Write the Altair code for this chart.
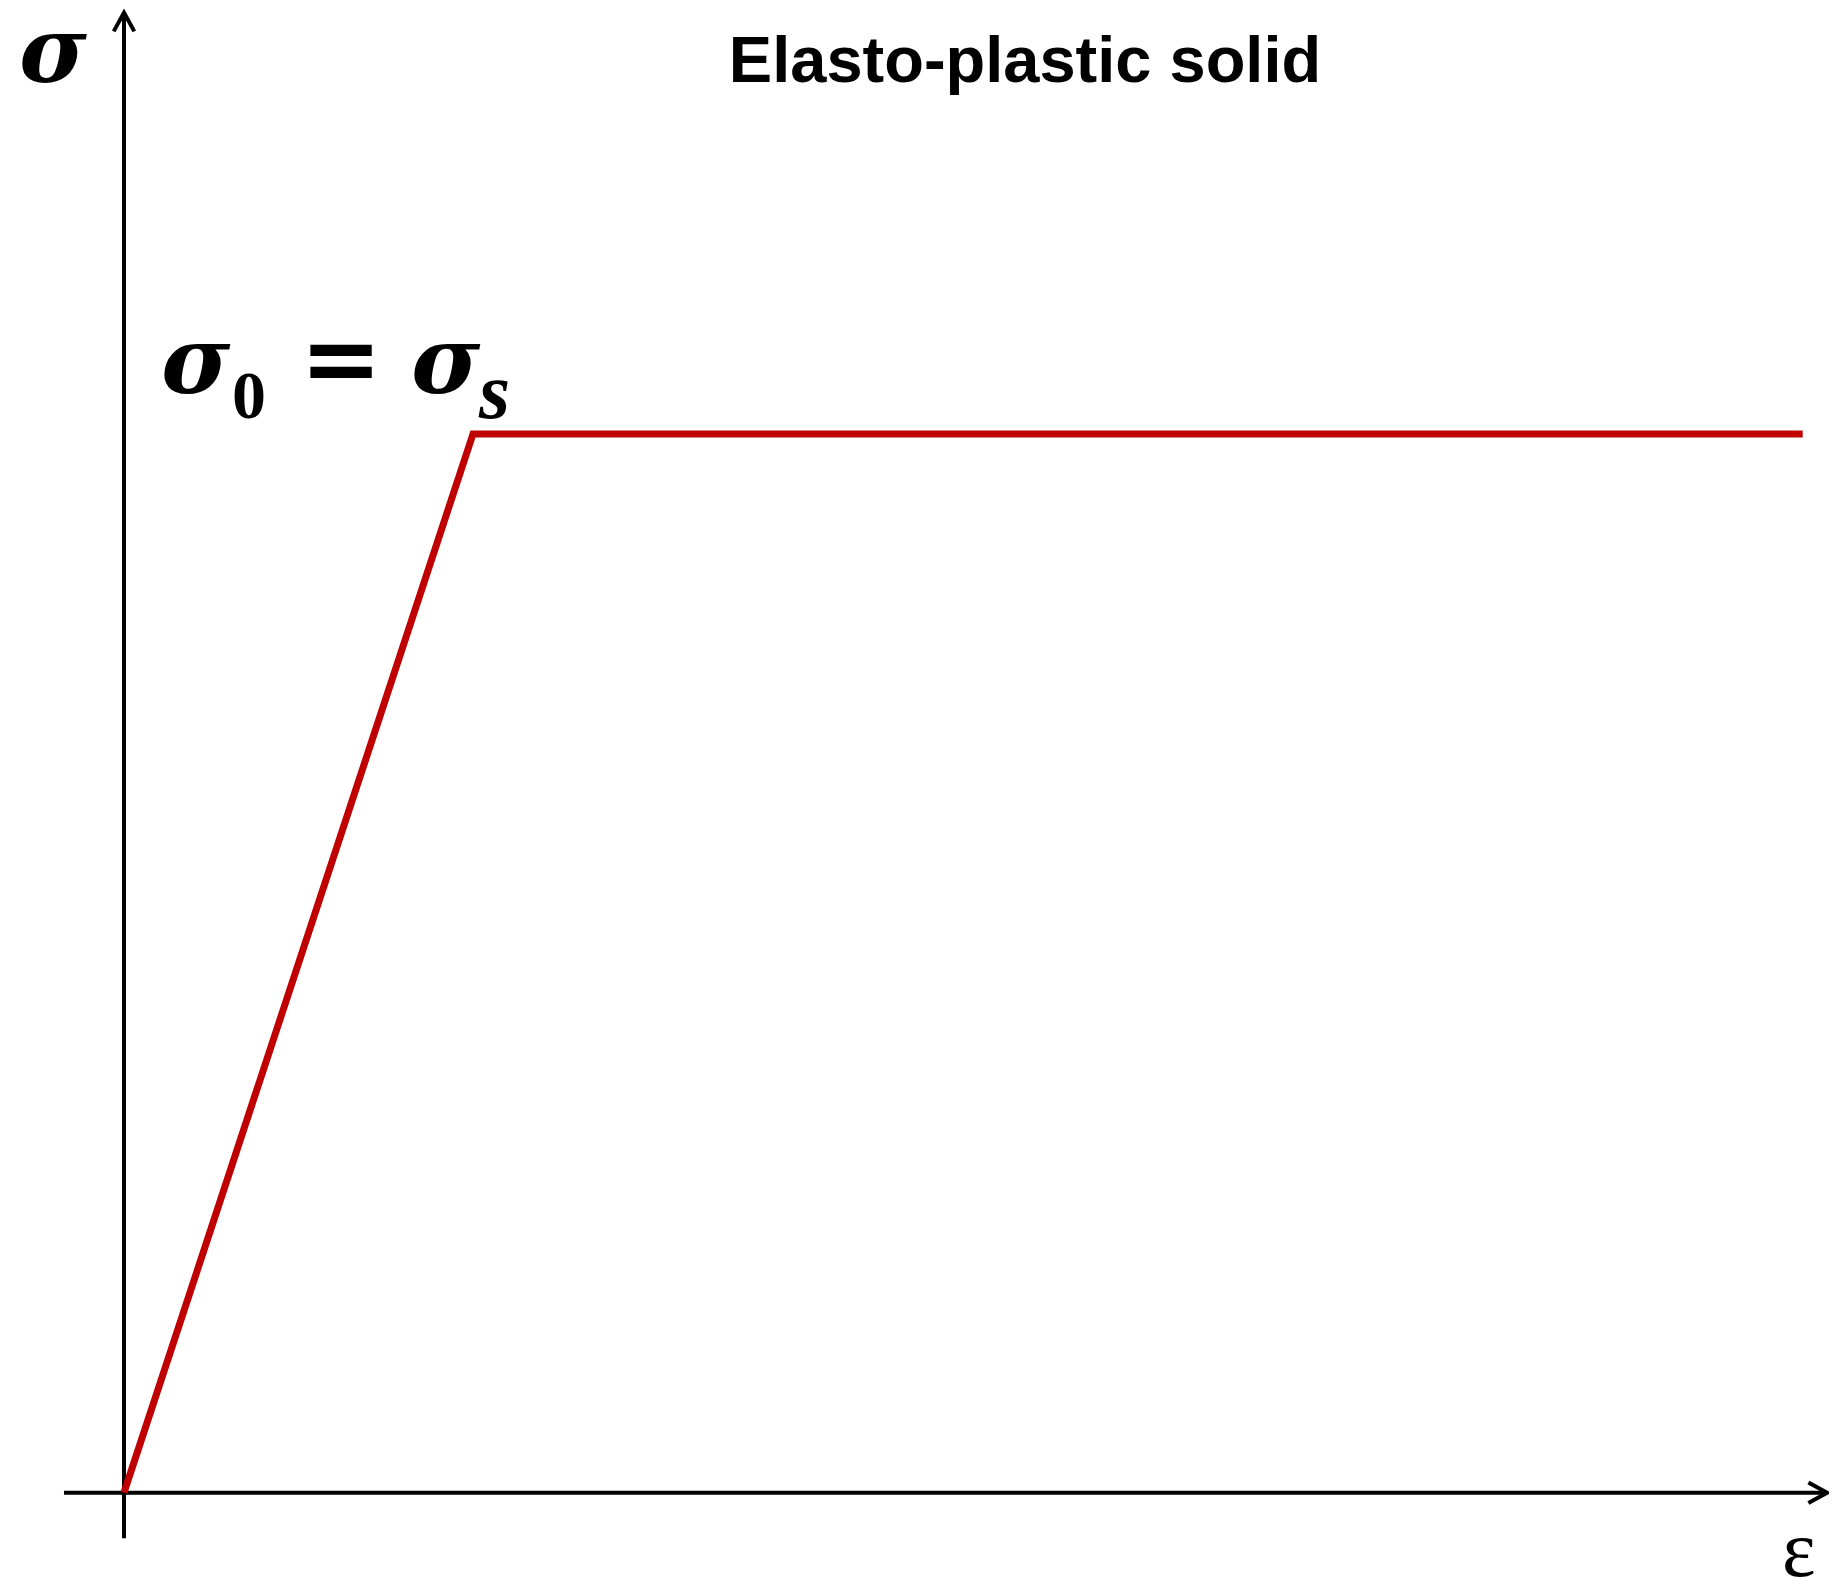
import altair as alt
import pandas as pd

# Stress-strain curve of an elasto-plastic solid (normalized units)
strain = [0.0, 1.0, 4.81]
stress = [0.0, 1.0, 1.0]

# extents of the drawn coordinate axes (data units)
axis_x_ext = [-0.172, 4.88]
axis_y_ext = [-0.043, 1.398]

title_text = ["Elasto-plastic solid"]
y_label = ["σ"]
x_label = ["ε"]

W, H = 1821, 1570
xs = alt.Scale(domain=[-0.33238, 4.88539], nice=False, zero=False)
ys = alt.Scale(domain=[-0.08057, 1.40238], nice=False, zero=False)

curve_df = pd.DataFrame({"strain": strain, "stress": stress, "i": range(len(strain))})

yaxis_df = pd.DataFrame({"x": [0.0], "y": [axis_y_ext[0]], "y2": [axis_y_ext[1]]})
xaxis_df = pd.DataFrame({"y": [0.0], "x": [axis_x_ext[0]], "x2": [axis_x_ext[1]]})

yaxis = alt.Chart(yaxis_df).mark_rule(color="black", strokeWidth=4).encode(
    x=alt.X("x:Q", scale=xs, axis=None),
    y=alt.Y("y:Q", scale=ys, axis=None),
    y2="y2:Q",
)
xaxis = alt.Chart(xaxis_df).mark_rule(color="black", strokeWidth=4).encode(
    y=alt.Y("y:Q", scale=ys, axis=None),
    x=alt.X("x:Q", scale=xs, axis=None),
    x2="x2:Q",
)

up_tip = pd.DataFrame({"x": [0.0], "y": [axis_y_ext[1]]})
right_tip = pd.DataFrame({"x": [axis_x_ext[1]], "y": [0.0]})

up_arrow = alt.Chart(up_tip).mark_point(
    shape="M -0.55 1 L 0 0 L 0.55 1", size=1400, filled=False,
    stroke="black", strokeWidth=4, opacity=1,
).encode(x=alt.X("x:Q", scale=xs, axis=None), y=alt.Y("y:Q", scale=ys, axis=None))

right_arrow = alt.Chart(right_tip).mark_point(
    shape="M -1 -0.55 L 0 0 L -1 0.55", size=1400, filled=False,
    stroke="black", strokeWidth=4, opacity=1,
).encode(x=alt.X("x:Q", scale=xs, axis=None), y=alt.Y("y:Q", scale=ys, axis=None))

curve = alt.Chart(curve_df).mark_line(color="#C00000", strokeWidth=7).encode(
    x=alt.X("strain:Q", scale=xs, axis=None),
    y=alt.Y("stress:Q", scale=ys, axis=None),
    order="i:Q",
)

def txt(values, x, y, size, font, weight="normal", style="normal", align="left"):
    return alt.Chart(pd.DataFrame({"t": values})).mark_text(
        font=font, fontSize=size, fontWeight=weight, fontStyle=style,
        align=align, baseline="alphabetic", color="black",
    ).encode(text="t:N", x=alt.value(x), y=alt.value(y))

serif = "Liberation Serif"
sig_font = "DejaVu Serif"
title = txt(title_text, 1017, 74, 65, "Liberation Sans", weight="bold", align="center")
sig_lab = txt(y_label, 11, 74, 92, sig_font, weight="bold", style="italic")
eps_lab = txt(x_label, 1774, 1568, 80, serif)

s0_a = txt(["σ"], 153, 385, 94, sig_font, weight="bold", style="italic")
s0_b = txt(["0"], 224, 410, 68, serif, weight="bold")
s0_c = txt(["="], 333, 384, 98, "DejaVu Sans", weight="bold", align="center")
s0_d = txt(["σ"], 403, 385, 94, sig_font, weight="bold", style="italic")
s0_e = txt(["s"], 471, 410, 80, serif, weight="bold", style="italic")

chart = alt.layer(
    yaxis, xaxis, up_arrow, right_arrow, curve,
    title, sig_lab, eps_lab, s0_a, s0_b, s0_c, s0_d, s0_e,
).properties(
    width=W, height=H, padding=0,
    autosize=alt.AutoSizeParams(type="none"),
).configure_view(stroke=None)

chart.save("out.html", embed_options={"renderer": "svg", "actions": False})
